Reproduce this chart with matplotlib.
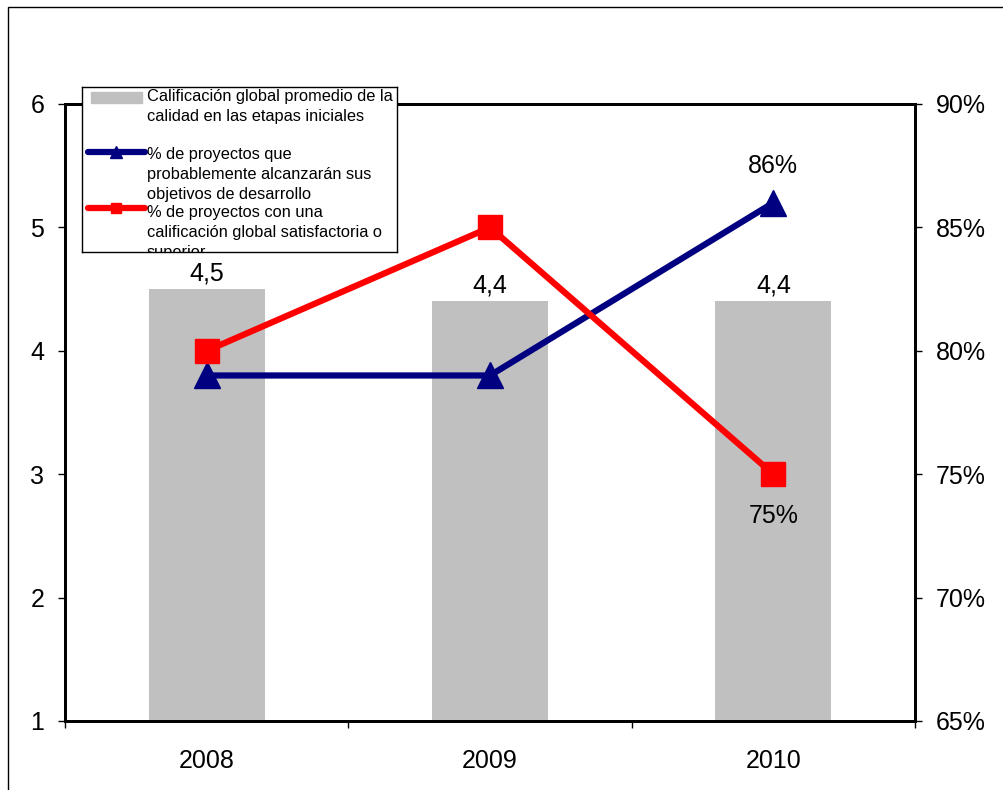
import matplotlib.pyplot as plt
from matplotlib.patches import Rectangle
from matplotlib.ticker import FixedLocator, FuncFormatter

plt.rcParams['font.family'] = ['Liberation Sans', 'DejaVu Sans']

# datos
years = ["2008", "2009", "2010"]
calif = [4.5, 4.4, 4.4]
calif_lbl = ["4,5", "4,4", "4,4"]
pct_alcanzan = [79, 79, 86]
pct_satisf = [80, 85, 75]

leg_labels = [
    "Calificación global promedio de la\ncalidad en las etapas iniciales",
    "% de proyectos que\nprobablemente alcanzarán sus\nobjetivos de desarrollo",
    "% de proyectos con una\ncalificación global satisfactoria o\nsuperior",
]

gray = "#C0C0C0"
navy = "#000080"
red = "#FF0000"
fs = 18

fig = plt.figure(figsize=(10.04, 7.9), dpi=100)

# marco exterior (cortado a la derecha y abajo)
fig.patches.append(Rectangle((8 / 1004, -0.1), 1.2, 1.1 - 7 / 790, transform=fig.transFigure,
                             fill=False, edgecolor="black", linewidth=1.0))

ax = fig.add_axes([65 / 1004, 69 / 790, 850 / 1004, 617 / 790])
x = list(range(len(years)))

ax.bar(x, calif, width=0.41, color=gray, bottom=0, zorder=1)
for xi, v, lbl in zip(x, calif, calif_lbl):
    ax.text(xi, v + 0.03, lbl, ha="center", va="bottom", fontsize=fs)

ax.set_xlim(-0.5, 2.5)
ax.set_ylim(1, 6)
ax.set_yticks([1, 2, 3, 4, 5, 6])
ax.set_xticks(x)
ax.set_xticklabels(years)
ax.xaxis.set_minor_locator(FixedLocator([-0.5, 0.5, 1.5, 2.5]))
ax.tick_params(axis="x", which="major", length=0, pad=20, labelsize=fs)
ax.tick_params(axis="x", which="minor", length=5, width=1, direction="out")
ax.tick_params(axis="y", length=5, width=1, direction="out", labelsize=fs, pad=10)
for s in ax.spines.values():
    s.set_linewidth(2)

ax2 = ax.twinx()
ax2.plot(x, pct_alcanzan, color=navy, linewidth=4.5, marker="^", markersize=19, zorder=3)
ax2.plot(x, pct_satisf, color=red, linewidth=4.5, marker="s", markersize=17, zorder=4)
ax2.text(x[2], pct_alcanzan[2] + 1.0, f"{pct_alcanzan[2]}%", ha="center", va="bottom", fontsize=fs)
ax2.text(x[2], pct_satisf[2] - 1.2, f"{pct_satisf[2]}%", ha="center", va="top", fontsize=fs)
ax2.set_ylim(65, 90)
ax2.set_yticks([65, 70, 75, 80, 85, 90])
ax2.yaxis.set_major_formatter(FuncFormatter(lambda v, p: f"{v:.0f}%"))
ax2.tick_params(axis="y", length=5, width=1, direction="out", labelsize=fs, pad=10)
for s in ax2.spines.values():
    s.set_linewidth(2)

# leyenda (recortada como en el original)
lg = fig.add_axes([82 / 1004, (790 - 252) / 790, 315 / 1004, 165 / 790])
lg.set_xlim(0, 315)
lg.set_ylim(165, 0)
lg.set_xticks([])
lg.set_yticks([])
for s in lg.spines.values():
    s.set_linewidth(1)
lg.add_patch(Rectangle((9, 5), 51, 11, color=gray))
lg.plot([6, 63], [65, 65], color=navy, linewidth=4.5, solid_capstyle="round")
lg.plot([34], [65], color=navy, marker="^", markersize=8)
lg.plot([6, 63], [121, 121], color=red, linewidth=4.5, solid_capstyle="round")
lg.plot([34], [121], color=red, marker="s", markersize=7)

starts = [10, 68, 125]
for lbl, y0 in zip(leg_labels, starts):
    for i, line in enumerate(lbl.split("\n")):
        t = lg.text(65, y0 + 20 * i, line, ha="left", va="center", fontsize=11.8)
        t.set_clip_on(True)

fig.savefig("out.png", dpi=100)
